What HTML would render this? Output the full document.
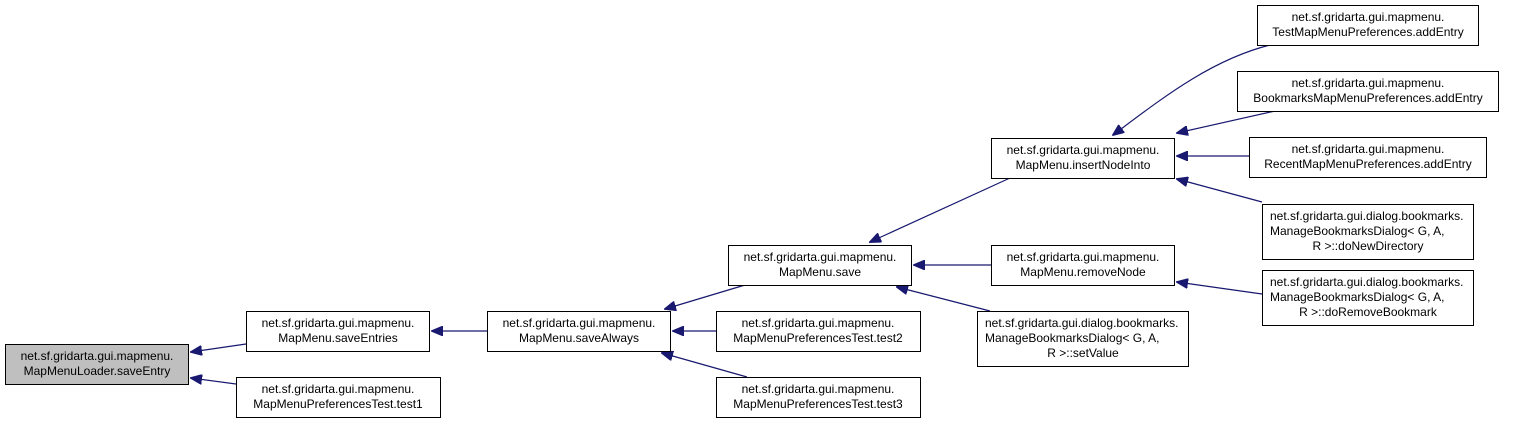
<!DOCTYPE html>
<html><head><meta charset="utf-8"><style>
html,body{margin:0;padding:0;background:#fff;}
svg text{font-family:"Liberation Sans",sans-serif;font-size:12px;fill:#000;}
</style></head><body>
<svg width="1516" height="423" viewBox="0 0 1516 423" xmlns="http://www.w3.org/2000/svg">
<defs><marker id="a" markerWidth="12" markerHeight="10" refX="1" refY="5" orient="auto" markerUnits="userSpaceOnUse"><path d="M12,0 L0,5 L12,10 z" fill="#191970" stroke="#191970"/></marker></defs>
<g stroke="#191970" stroke-width="1.2" fill="none">
<path d="M191,352 L246,344" marker-start="url(#a)"/>
<path d="M191,378 L236,384" marker-start="url(#a)"/>
<path d="M432,331 L487,331" marker-start="url(#a)"/>
<path d="M665,309 L745,285" marker-start="url(#a)"/>
<path d="M673,331 L716,331" marker-start="url(#a)"/>
<path d="M662,353 L747,377" marker-start="url(#a)"/>
<path d="M870,242 L1010,178" marker-start="url(#a)"/>
<path d="M914,265 L991,265" marker-start="url(#a)"/>
<path d="M897,287 L990,311" marker-start="url(#a)"/>
<path d="M1113,135 C1160,100 1210,60 1270,45" marker-start="url(#a)"/>
<path d="M1177,133 L1275,111" marker-start="url(#a)"/>
<path d="M1177,156 L1249,156" marker-start="url(#a)"/>
<path d="M1177,179 L1262,202" marker-start="url(#a)"/>
<path d="M1177,282 L1262,294" marker-start="url(#a)"/>
</g>
<g stroke="#000" stroke-width="1" fill="#fff">
<rect x="5.5" y="344.5" width="183" height="40" fill="#bfbfbf"/>
<rect x="246.5" y="311.5" width="183" height="40"/>
<rect x="236.5" y="377.5" width="204" height="40"/>
<rect x="487.5" y="311.5" width="183" height="40"/>
<rect x="716.5" y="311.5" width="204" height="40"/>
<rect x="716.5" y="377.5" width="204" height="40"/>
<rect x="728.5" y="245.5" width="183" height="40"/>
<rect x="991.5" y="138.5" width="183" height="40"/>
<rect x="991.5" y="245.5" width="183" height="40"/>
<rect x="977.5" y="311.5" width="211" height="55"/>
<rect x="1257.5" y="5.5" width="221" height="40"/>
<rect x="1237.5" y="71.5" width="261" height="40"/>
<rect x="1249.5" y="137.5" width="237" height="40"/>
<rect x="1262.5" y="204.5" width="211" height="55"/>
<rect x="1262.5" y="270.5" width="211" height="55"/>
</g>
<g text-anchor="middle">
<text x="97" y="360">net.sf.gridarta.gui.mapmenu.</text><text x="97" y="375">MapMenuLoader.saveEntry</text>
<text x="338" y="327">net.sf.gridarta.gui.mapmenu.</text><text x="338" y="342">MapMenu.saveEntries</text>
<text x="338" y="393">net.sf.gridarta.gui.mapmenu.</text><text x="338" y="408">MapMenuPreferencesTest.test1</text>
<text x="579" y="327">net.sf.gridarta.gui.mapmenu.</text><text x="579" y="342">MapMenu.saveAlways</text>
<text x="818" y="327">net.sf.gridarta.gui.mapmenu.</text><text x="818" y="342">MapMenuPreferencesTest.test2</text>
<text x="818" y="393">net.sf.gridarta.gui.mapmenu.</text><text x="818" y="408">MapMenuPreferencesTest.test3</text>
<text x="820" y="261">net.sf.gridarta.gui.mapmenu.</text><text x="820" y="276">MapMenu.save</text>
<text x="1083" y="154">net.sf.gridarta.gui.mapmenu.</text><text x="1083" y="169">MapMenu.insertNodeInto</text>
<text x="1083" y="261">net.sf.gridarta.gui.mapmenu.</text><text x="1083" y="276">MapMenu.removeNode</text>
<text x="1368" y="21">net.sf.gridarta.gui.mapmenu.</text><text x="1368" y="36">TestMapMenuPreferences.addEntry</text>
<text x="1368" y="87">net.sf.gridarta.gui.mapmenu.</text><text x="1368" y="102">BookmarksMapMenuPreferences.addEntry</text>
<text x="1368" y="153">net.sf.gridarta.gui.mapmenu.</text><text x="1368" y="168">RecentMapMenuPreferences.addEntry</text>
</g>
<text x="985" y="327">net.sf.gridarta.gui.dialog.bookmarks.</text><text x="985" y="342">ManageBookmarksDialog&lt; G, A,</text><text x="1083" y="357" text-anchor="middle">R &gt;::setValue</text>
<text x="1270" y="220">net.sf.gridarta.gui.dialog.bookmarks.</text><text x="1270" y="235">ManageBookmarksDialog&lt; G, A,</text><text x="1368" y="250" text-anchor="middle">R &gt;::doNewDirectory</text>
<text x="1270" y="286">net.sf.gridarta.gui.dialog.bookmarks.</text><text x="1270" y="301">ManageBookmarksDialog&lt; G, A,</text><text x="1368" y="316" text-anchor="middle">R &gt;::doRemoveBookmark</text>
</svg>
</body></html>
